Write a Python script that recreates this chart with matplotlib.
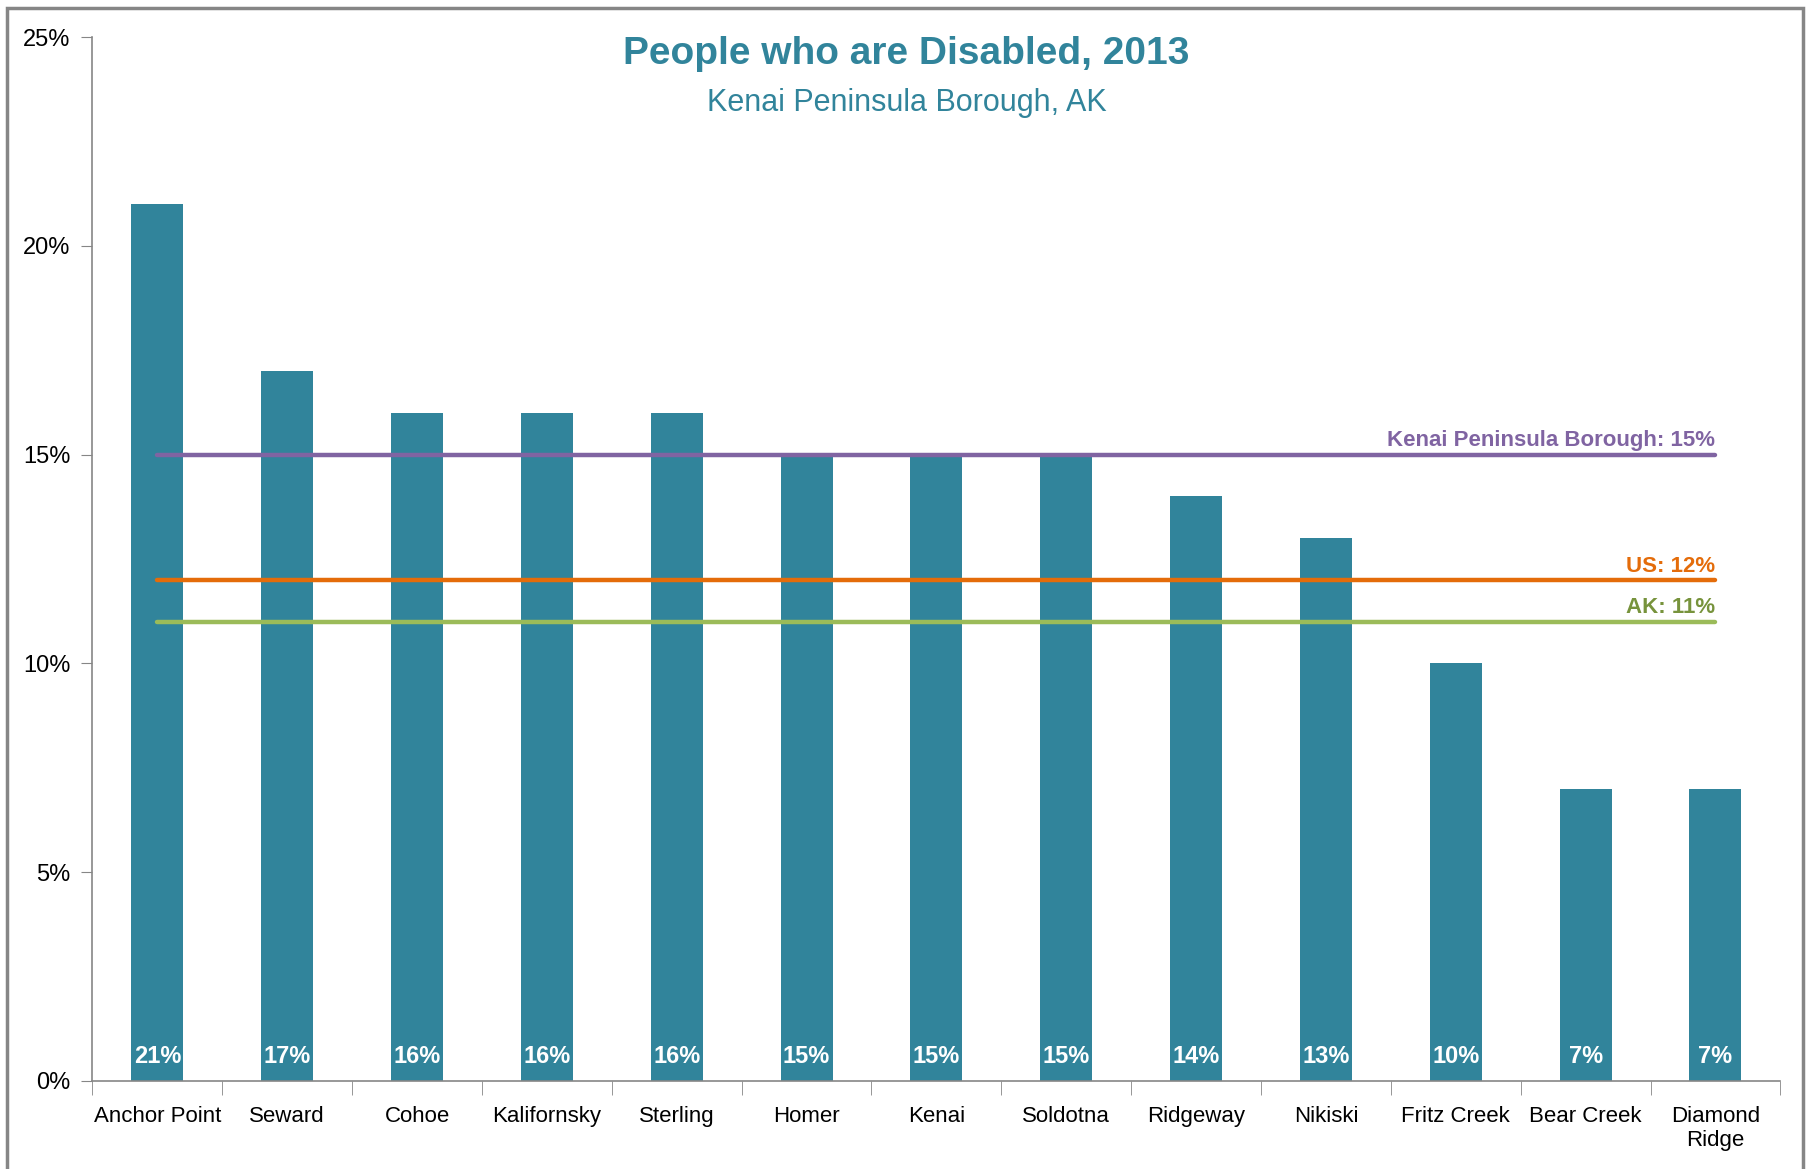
import numpy as np
import matplotlib.pyplot as plt
from matplotlib import font_manager
from matplotlib.patches import Rectangle

# data
places = ["Anchor Point", "Seward", "Cohoe", "Kalifornsky", "Sterling", "Homer", "Kenai",
          "Soldotna", "Ridgeway", "Nikiski", "Fritz Creek", "Bear Creek", "Diamond\nRidge"]
disabled_pct = [21, 17, 16, 16, 16, 15, 15, 15, 14, 13, 10, 7, 7]

ref_names = ["Kenai Peninsula Borough", "US", "AK"]
ref_values = [15, 12, 11]
ref_colors = ["#8064A2", "#E46C0A", "#9BBB59"]
ref_text_colors = ["#8064A2", "#E46C0A", "#77933C"]

bar_color = "#31849B"

names = {f.name for f in font_manager.fontManager.ttflist}
family = "Liberation Sans Narrow" if "Liberation Sans Narrow" in names else "Liberation Sans"
plt.rcParams["font.family"] = [family, "DejaVu Sans"]

fig = plt.figure(figsize=(18.13, 11.69), dpi=100)
ax = fig.add_axes([0.051, 0.0753, 0.931, 0.893])

x = np.arange(len(places))
ax.bar(x, disabled_pct, width=0.4, color=bar_color, zorder=2)

for xi, v in zip(x, disabled_pct):
    ax.text(xi, 0.3, f"{v}%", ha="center", va="bottom", color="white",
            fontsize=17, fontweight="bold", zorder=4)

for name, val, col, tcol in zip(ref_names, ref_values, ref_colors, ref_text_colors):
    ax.plot([x[0], x[-1]], [val, val], color=col, lw=3.2, solid_capstyle="round", zorder=3)
    ax.text(x[-1], val + 0.08, f"{name}: {val}%", ha="right", va="bottom",
            color=tcol, fontsize=16, fontweight="bold", zorder=4)

ax.set_xlim(-0.5, len(places) - 0.5)
ax.set_ylim(0, 25)
ax.set_yticks(range(0, 26, 5))
ax.set_yticklabels([f"{t}%" for t in range(0, 26, 5)], fontsize=17)

ax.set_xticks(x)
ax.set_xticklabels(places, fontsize=16)
ax.set_xticks(np.arange(-0.5, len(places), 1), minor=True)
ax.tick_params(axis="x", which="major", length=0, pad=18)
ax.tick_params(axis="x", which="minor", length=10, color="#868686", direction="out")
ax.tick_params(axis="y", length=8, color="#868686", pad=8)

for side in ["top", "right"]:
    ax.spines[side].set_visible(False)
for side in ["left", "bottom"]:
    ax.spines[side].set_color("#868686")
    ax.spines[side].set_linewidth(1.2)

fig.text(0.5, 0.954, "People who are Disabled, 2013", ha="center", va="center",
         color=bar_color, fontsize=28, fontweight="bold")
fig.text(0.5, 0.912, "Kenai Peninsula Borough, AK", ha="center", va="center",
         color=bar_color, fontsize=22)

# outer chart frame
fig.patches.append(Rectangle((7 / 1813, -0.05), 1796 / 1813, 0.05 + 1 - 8 / 1169,
                             transform=fig.transFigure, fill=False,
                             edgecolor="#868686", lw=2.5))

fig.savefig("out.png", dpi=100)
